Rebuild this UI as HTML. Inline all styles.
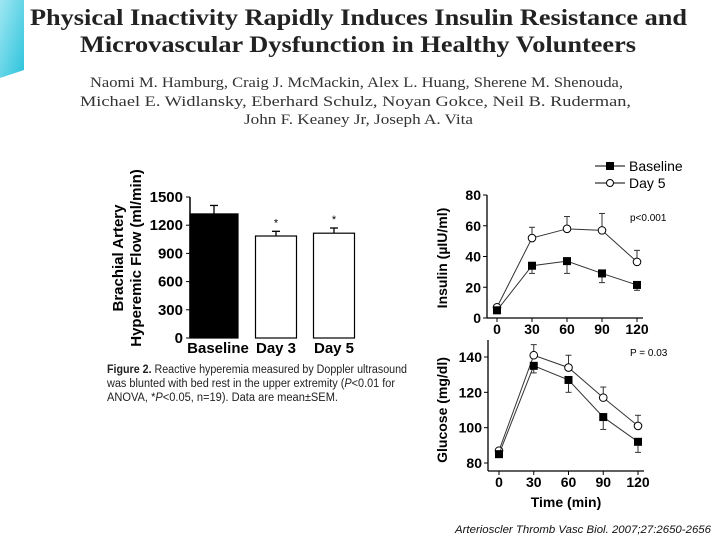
<!DOCTYPE html>
<html><head><meta charset="utf-8"><style>
body{margin:0;width:720px;height:540px;overflow:hidden;background:#fff;position:relative;font-family:"Liberation Sans",sans-serif}
</style></head><body>
<svg width="720" height="540" style="position:absolute;left:0;top:0">
<defs><linearGradient id="cy" x1="0" y1="0" x2="1" y2="1"><stop offset="0" stop-color="#9fe7f2"/><stop offset="1" stop-color="#2cc3dc"/></linearGradient></defs>
<polygon points="0,0 24,0 24,70 0,78" fill="url(#cy)"/>
<text x="30" y="25" textLength="657" lengthAdjust="spacingAndGlyphs" font-family="Liberation Serif,serif" font-weight="bold" font-size="23" fill="#222">Physical Inactivity Rapidly Induces Insulin Resistance and</text>
<text x="80" y="52" textLength="556" lengthAdjust="spacingAndGlyphs" font-family="Liberation Serif,serif" font-weight="bold" font-size="23" fill="#222">Microvascular Dysfunction in Healthy Volunteers</text>
<text x="90" y="87" textLength="533" lengthAdjust="spacingAndGlyphs" font-family="Liberation Serif,serif" font-size="15" fill="#333">Naomi M. Hamburg, Craig J. McMackin, Alex L. Huang, Sherene M. Shenouda,</text>
<text x="80" y="106" textLength="551" lengthAdjust="spacingAndGlyphs" font-family="Liberation Serif,serif" font-size="15" fill="#333">Michael E. Widlansky, Eberhard Schulz, Noyan Gokce, Neil B. Ruderman,</text>
<text x="244" y="124" textLength="229" lengthAdjust="spacingAndGlyphs" font-family="Liberation Serif,serif" font-size="15" fill="#333">John F. Keaney Jr, Joseph A. Vita</text>
<g id="bar"></g>
<g id="ins"></g>
<g id="glu"></g>
<text x="107" y="373" textLength="300" lengthAdjust="spacingAndGlyphs" font-size="11.5" fill="#222"><tspan font-weight="bold">Figure 2.</tspan> Reactive hyperemia measured by Doppler ultrasound</text>
<text x="107" y="387" textLength="288" lengthAdjust="spacingAndGlyphs" font-size="11.5" fill="#222">was blunted with bed rest in the upper extremity (<tspan font-style="italic">P</tspan>&lt;0.01 for</text>
<text x="107" y="401" textLength="231" lengthAdjust="spacingAndGlyphs" font-size="11.5" fill="#222">ANOVA, *<tspan font-style="italic">P</tspan>&lt;0.05, n=19). Data are mean±SEM.</text>
<text x="455" y="533" textLength="256" lengthAdjust="spacingAndGlyphs" font-size="11" font-style="italic" fill="#111">Arterioscler Thromb Vasc Biol. 2007;27:2650-2656</text>
</svg>
<script>
const NS="http://www.w3.org/2000/svg";
function mk(p,t,a,txt){const e=document.createElementNS(NS,t);for(const k in a)e.setAttribute(k,a[k]);if(txt!==undefined)e.textContent=txt;p.appendChild(e);return e;}
// Bar chart data
const barCats=["Baseline","Day 3","Day 5"];
const barVals=[1320,1085,1115];
const barErr=[1410,1135,1170];
const barTicks=[0,300,600,900,1200,1500];
// Insulin data
const times=[0,30,60,90,120];
const insBase=[5,34,37,29,21.5];
const insBaseErr=[5,29,29,23,18];
const insDay5=[7,52,58,57,36.5];
const insDay5Err=[7,59,66,68,44];
const insTicks=[0,20,40,60,80];
// Glucose data
const gluBase=[85,135,127,106,92];
const gluBaseErr=[85,131,120,99,86];
const gluDay5=[87,141,134,117,101];
const gluDay5Err=[87,147,141,123,107];
const gluTicks=[80,100,120,140];

(function(){
const g=document.getElementById('bar');
const y=v=>338-(v/1500)*141;
const ax=mk(g,'line',{x1:190,y1:y(1500),x2:190,y2:338,stroke:'#000','stroke-width':1.5});

barTicks.forEach(t=>{mk(g,'line',{x1:186,x2:190,y1:y(t),y2:y(t),stroke:'#000'});
const l=mk(g,'text',{x:183,y:y(t)+5,'text-anchor':'end','font-size':15,'font-weight':'bold'},t);
});
const xs=[214,276,334],w=[48,41,41];
barCats.forEach((c,i)=>{
const b=mk(g,'rect',{x:xs[i]-w[i]/2,y:y(barVals[i]),width:w[i],height:338-y(barVals[i]),fill:i==0?'#000':'#fff',stroke:'#000','stroke-width':1.2});

mk(g,'line',{x1:xs[i],x2:xs[i],y1:y(barVals[i]),y2:y(barErr[i]),stroke:'#000','stroke-width':1.3});
mk(g,'line',{x1:xs[i]-4,x2:xs[i]+4,y1:y(barErr[i]),y2:y(barErr[i]),stroke:'#000','stroke-width':1.3});
if(i>0)mk(g,'text',{x:xs[i],y:y(barErr[i])-5,'text-anchor':'middle','font-size':11},'*');
const l=mk(g,'text',{x:xs[i]+(i==0?4:0),y:353,'text-anchor':'middle','font-size':15,'font-weight':'bold'},c);
});
const t=mk(g,'text',{transform:'translate(123,258) rotate(-90)','text-anchor':'middle','font-size':15,'font-weight':'bold'},'Brachial Artery');

const t2=mk(g,'text',{transform:'translate(141,258) rotate(-90)','text-anchor':'middle','font-size':15,'font-weight':'bold'},'Hyperemic Flow (ml/min)');

})();

function lineChart(id,x,y,ticks,ax0,axTop,xAxisY,base,baseE,d5,d5E,ylab,ylabY){
const g=document.getElementById(id);
mk(g,'line',{x1:ax0,x2:ax0,y1:axTop,y2:xAxisY,stroke:'#000','stroke-width':1.3});
mk(g,'line',{x1:ax0,x2:x(120)+6,y1:xAxisY,y2:xAxisY,stroke:'#000','stroke-width':1.3});
ticks.forEach(t=>{mk(g,'line',{x1:ax0-4,x2:ax0,y1:y(t),y2:y(t),stroke:'#000'});
const l=mk(g,'text',{x:ax0-6,y:y(t)+5,'text-anchor':'end','font-size':14,'font-weight':'bold'},t);
});
times.forEach(t=>{mk(g,'line',{x1:x(t),x2:x(t),y1:xAxisY,y2:xAxisY+4,stroke:'#000'});
const l=mk(g,'text',{x:x(t),y:xAxisY+16,'text-anchor':'middle','font-size':14,'font-weight':'bold'},t);
});
[[d5,d5E,false],[base,baseE,true]].forEach(([v,e,filled])=>{
const ln=mk(g,'polyline',{points:times.map((t,i)=>x(t)+','+y(v[i])).join(' '),fill:'none',stroke:'#333','stroke-width':1});

times.forEach((t,i)=>{
mk(g,'line',{x1:x(t),x2:x(t),y1:y(v[i]),y2:y(e[i]),stroke:'#333'});
mk(g,'line',{x1:x(t)-3,x2:x(t)+3,y1:y(e[i]),y2:y(e[i]),stroke:'#333'});
let m;
if(filled)m=mk(g,'rect',{x:x(t)-4,y:y(v[i])-4,width:8,height:8,fill:'#000'});
else m=mk(g,'circle',{cx:x(t),cy:y(v[i]),r:3.8,fill:'#fff',stroke:'#000'});
});});
const yl=mk(g,'text',{transform:`translate(447,${ylabY}) rotate(-90)`,'text-anchor':'middle','font-size':14,'font-weight':'bold'},ylab);

return g;}

(function(){
const x=t=>497+t/120*140, y=v=>318-v/80*123;
const g=lineChart('ins',x,y,insTicks,487,195,318,insBase,insBaseErr,insDay5,insDay5Err,'Insulin (\u00b5IU/ml)',258);
const p=mk(g,'text',{x:630,y:221,'font-size':10},'p<0.001');
mk(g,'line',{x1:595,x2:625,y1:166,y2:166,stroke:'#000'});mk(g,'rect',{x:606,y:162,width:8,height:8,fill:'#000'});
const l1=mk(g,'text',{x:629,y:171,'font-size':14},'Baseline');
mk(g,'line',{x1:595,x2:625,y1:183,y2:183,stroke:'#000'});mk(g,'circle',{cx:610,cy:183,r:3.5,fill:'#fff',stroke:'#000'});
const l2=mk(g,'text',{x:629,y:188,'font-size':14},'Day 5');
})();
(function(){
const x=t=>499+t/120*139, y=v=>463-(v-80)/60*106;
const g=lineChart('glu',x,y,gluTicks,488,340,471,gluBase,gluBaseErr,gluDay5,gluDay5Err,'Glucose (mg/dl)',410);
const p=mk(g,'text',{x:630,y:356,'font-size':10},'P = 0.03');
const xt=mk(g,'text',{x:566,y:507,'text-anchor':'middle','font-size':14,'font-weight':'bold'},'Time (min)');

})();
</script>
</body></html>
